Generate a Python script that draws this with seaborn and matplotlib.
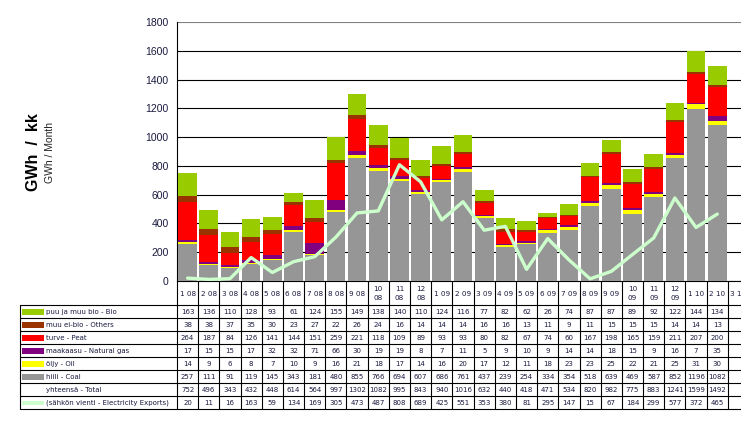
import numpy as np
import pandas as pd
import matplotlib
matplotlib.use("Agg")
import matplotlib.pyplot as plt
import matplotlib.transforms as mtransforms
from matplotlib.patches import Rectangle
from matplotlib.lines import Line2D
import seaborn as sns

# ---------------- data ----------------
months = ["1 08", "2 08", "3 08", "4 08", "5 08", "6 08", "7 08", "8 08", "9 08",
          "10 08", "11 08", "12 08",
          "1 09", "2 09", "3 09", "4 09", "5 09", "6 09", "7 09", "8 09", "9 09",
          "10 09", "11 09", "12 09",
          "1 10", "2 10", "3 10"]

bio = [163, 136, 110, 128, 93, 61, 124, 155, 149, 138, 140, 110, 124, 116, 77, 82, 62,
       26, 74, 87, 87, 89, 92, 122, 144, 134]
others = [38, 38, 37, 35, 30, 23, 27, 22, 26, 24, 16, 14, 14, 14, 16, 16, 13, 11, 9, 11,
          15, 15, 15, 14, 14, 13]
peat = [264, 187, 84, 126, 141, 144, 151, 259, 221, 118, 109, 89, 93, 93, 80, 82, 67, 74,
        60, 167, 198, 165, 159, 211, 207, 200]
gas = [17, 15, 15, 17, 32, 32, 71, 66, 30, 19, 19, 8, 7, 11, 5, 9, 10, 9, 14, 14, 18, 15,
       9, 16, 7, 35]
oil = [14, 9, 6, 8, 7, 10, 9, 16, 21, 18, 17, 14, 16, 20, 17, 12, 11, 18, 23, 23, 25, 22,
       21, 25, 31, 30]
coal = [257, 111, 91, 119, 145, 343, 181, 480, 855, 766, 694, 607, 686, 761, 437, 239,
        254, 334, 354, 518, 639, 469, 587, 852, 1196, 1082]
total = [752, 496, 343, 432, 448, 614, 564, 997, 1302, 1082, 995, 843, 940, 1016, 632,
         440, 418, 471, 534, 820, 982, 775, 883, 1241, 1599, 1492]
exports = [20, 11, 16, 163, 59, 134, 169, 305, 473, 487, 808, 689, 425, 551, 353, 380, 81,
           295, 147, 15, 67, 184, 299, 577, 372, 465]

series_labels = ["puu ja muu bio - Bio", "muu ei-bio - Others", "turve - Peat",
                 "maakaasu - Natural gas", "öljy - Oil", "hiili - Coal",
                 "yhteensä - Total", "(sähkön vienti - Electricity Exports)"]

C_BIO, C_OTH, C_PEAT, C_GAS, C_OIL, C_COAL = "#99cc00", "#993300", "#ff0000", "#800080", "#ffff00", "#969696"
C_EXP = "#ccffcc"
TXT = "#1a1a40"

# ---------------- figure ----------------
sns.set_theme(style="white")
plt.rcParams["font.family"] = ["DejaVu Sans"]

W, H = 741, 436
fig = plt.figure(figsize=(W / 100, H / 100), dpi=100)
ax = fig.add_axes([177 / W, (H - 281) / H, 572 / W, 259 / H])

n = len(bio)
df = pd.DataFrame({"month": months[:n], "coal": coal, "oil": oil, "gas": gas,
                   "peat": peat, "others": others, "bio": bio})

layers = [("coal", C_COAL), ("oil", C_OIL), ("gas", C_GAS), ("peat", C_PEAT),
          ("others", C_OTH), ("bio", C_BIO)]
bottom = np.zeros(n)
for col, colr in layers:
    sns.barplot(data=df, x="month", y=col, order=months, color=colr, saturation=1,
                width=0.88, bottom=bottom, errorbar=None, edgecolor="none",
                linewidth=0, ax=ax, zorder=3)
    bottom = bottom + df[col].to_numpy()

sns.lineplot(x=np.arange(n), y=exports, color=C_EXP, linewidth=2.4, ax=ax, zorder=4,
             sort=False)

ax.set_xlim(-0.5, len(months) - 0.5)
ax.set_ylim(0, 1800)
ax.set_yticks(np.arange(0, 1801, 200))
ax.set_xticks([])
ax.set_xlabel("")
ax.set_ylabel("")
ax.yaxis.grid(True, color="black", linewidth=0.8, zorder=0)
ax.get_ygridlines()[-1].set_color("#808080")
ax.set_axisbelow(True)
for s in ["top", "right"]:
    ax.spines[s].set_visible(False)
for s in ["left", "bottom"]:
    ax.spines[s].set_color("black")
    ax.spines[s].set_linewidth(0.8)
ax.tick_params(axis="y", length=4, width=0.8, color="black", direction="out", pad=2,
               labelsize=7.5, labelcolor=TXT)
for lab in ax.get_yticklabels():
    lab.set_fontfamily("Liberation Sans")

# axis titles
fig.text(33 / W, 1 - 152.5 / H, "GWh  /  kk", rotation=90, fontsize=11.5,
         fontweight="bold", ha="center", va="center", family="Liberation Sans", color="black")
fig.text(50 / W, 1 - 152.5 / H, "GWh / Month", rotation=90, fontsize=7.5,
         ha="center", va="center", family="Liberation Sans", color="#222222")

# ---------------- data table ----------------
T = mtransforms.blended_transform_factory(ax.transData, fig.transFigure)
F = fig.transFigure


def fy(px):
    return 1 - px / H


lw = 0.8
header_top, header_bot = 281, 305
row_h = 13.05
nrows = 8
table_bot = header_bot + row_h * nrows

# verticals at column boundaries
for k in range(len(months) + 1):
    xb = k - 0.5
    fig.add_artist(Line2D([xb, xb], [fy(header_top), fy(table_bot)], transform=T,
                          color="black", linewidth=lw, clip_on=False))
# left border of label column
fig.add_artist(Line2D([20 / W, 20 / W], [fy(header_bot), fy(table_bot)], transform=F,
                      color="black", linewidth=lw))
# horizontals
for r in range(nrows + 1):
    yy = fy(header_bot + r * row_h)
    fig.add_artist(Line2D([20 / W, 1.0], [yy, yy], transform=F, color="black", linewidth=lw))

# header labels
for i, m in enumerate(months):
    lab = m.replace(" ", "\n") if len(m) > 4 else m
    fig.text(i, fy((header_top + header_bot) / 2 + 0.5), lab, transform=T, ha="center",
             va="center", fontsize=5.2, color=TXT, linespacing=1.5)

rows = [bio, others, peat, gas, oil, coal, total, exports]
swatches = [C_BIO, C_OTH, C_PEAT, C_GAS, C_OIL, C_COAL, None, C_EXP]
for r, (vals, lab, sw) in enumerate(zip(rows, series_labels, swatches)):
    yc = header_bot + (r + 0.5) * row_h
    if sw is not None:
        hh = 6 if r < 7 else 4
        fig.add_artist(Rectangle((22 / W, fy(yc + hh / 2)), 22 / W, hh / H, transform=F,
                                 facecolor=sw, edgecolor="none"))
    fig.text(46 / W, fy(yc), lab, transform=F, ha="left", va="center", fontsize=5,
             color=TXT)
    for i, v in enumerate(vals):
        fig.text(i, fy(yc), str(v), transform=T, ha="center", va="center",
                 fontsize=5, color=TXT)

fig.savefig("out.png", dpi=100)
